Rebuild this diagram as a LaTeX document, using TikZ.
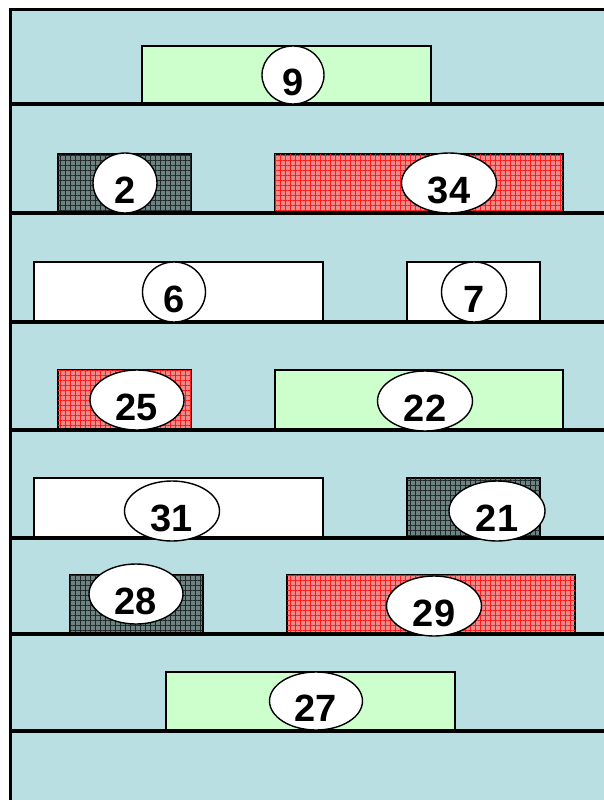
\documentclass[tikz,border=0pt]{standalone}
\usepackage{fontspec}
\setmainfont{Liberation Sans}
\usetikzlibrary{patterns.meta,shapes.geometric}
\definecolor{bg}{HTML}{B9DFE2}
\definecolor{grn}{HTML}{CCFFCC}
\definecolor{redbase}{HTML}{F08A8A}
\definecolor{redline}{HTML}{FF1A1A}
\definecolor{darkbase}{HTML}{6E8282}
\definecolor{darkline}{HTML}{202828}
\tikzset{
  box/.style={draw=black, line width=1.2pt, inner sep=0pt, outer sep=0pt, anchor=south west},
  greenbox/.style={box, fill=grn},
  whitebox/.style={box, fill=white},
  redbox/.style={box, fill=redbase,
    postaction={pattern={Lines[angle=0,distance=5pt,line width=0.7pt]}, pattern color=redline},
    postaction={pattern={Lines[angle=90,distance=5pt,line width=0.7pt]}, pattern color=redline}},
  darkbox/.style={box, fill=darkbase,
    postaction={pattern={Lines[angle=0,distance=5pt,line width=0.7pt]}, pattern color=darkline},
    postaction={pattern={Lines[angle=90,distance=5pt,line width=0.7pt]}, pattern color=darkline}},
  lab/.style={ellipse, draw=black, line width=1.4pt, fill=white, inner sep=0pt},
  num/.style={inner sep=0pt, font=\fontsize{38}{38}\selectfont\bfseries},
  shelf/.style={line width=4pt, black},
}
\newcommand{\lbl}[6]{% name, x, y, w, h, text
  \node[lab, minimum width=#4pt, minimum height=#5pt] (l#1) at (#2,#3) {};
  \node[num] (t#1) at ([yshift=-7pt]l#1.center) {#6};
}
\begin{document}
\begin{tikzpicture}[x=1pt,y=-1pt]
\useasboundingbox (0,0) rectangle (604,800);
\fill[bg] (10,10) rectangle (604,800);
\draw[line width=3pt] (10,800) -- (10,10) -- (604,10);
% boxes
\node[greenbox, minimum width=289pt, minimum height=58pt] (b9) at (142,104) {};
\node[darkbox, minimum width=133pt, minimum height=59pt] (b2) at (58,213) {};
\node[redbox, minimum width=288pt, minimum height=59pt] (b34) at (275,213) {};
\node[whitebox, minimum width=289pt, minimum height=60pt] (b6) at (34,322) {};
\node[whitebox, minimum width=133pt, minimum height=60pt] (b7) at (407,322) {};
\node[redbox, minimum width=133pt, minimum height=60pt] (b25) at (58,430) {};
\node[greenbox, minimum width=288pt, minimum height=60pt] (b22) at (275,430) {};
\node[whitebox, minimum width=289pt, minimum height=60pt] (b31) at (34,538) {};
\node[darkbox, minimum width=133pt, minimum height=60pt] (b21) at (407,538) {};
\node[darkbox, minimum width=133pt, minimum height=59pt] (b28) at (70,634) {};
\node[redbox, minimum width=288pt, minimum height=59pt] (b29) at (287,634) {};
\node[greenbox, minimum width=289pt, minimum height=59pt] (b27) at (166,731) {};
% shelves
\foreach \y/\n in {104/s1,213/s2,322/s3,430/s4,538/s5,634/s6,731/s7}{
  \coordinate (\n a) at (10,\y);
  \coordinate (\n b) at (604,\y);
  \draw[shelf] (\n a) -- (\n b);
}
% labels
\lbl{9}{293}{75}{62}{58}{9}
\lbl{2}{125}{183}{64}{60}{2}
\lbl{34}{449}{183}{95}{60}{34}
\lbl{6}{174}{292}{63}{60}{6}
\lbl{7}{474}{292}{65}{60}{7}
\lbl{25}{137}{400}{94}{60}{25}
\lbl{22}{425}{401}{95}{60}{22}
\lbl{31}{172}{511}{95}{60}{31}
\lbl{21}{497}{511}{96}{60}{21}
\lbl{28}{136}{594}{94}{60}{28}
\lbl{29}{434}{606}{95}{60}{29}
\lbl{27}{316}{701}{93}{58}{27}
\end{tikzpicture}
\end{document}
